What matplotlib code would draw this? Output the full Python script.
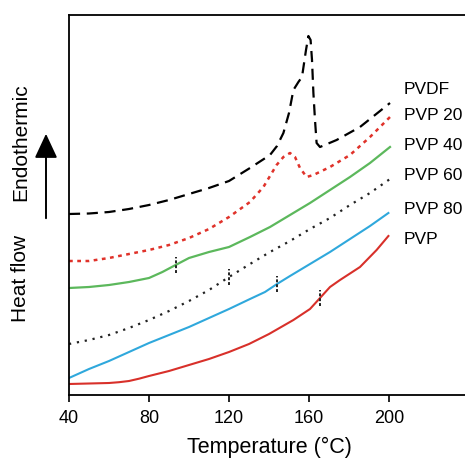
import matplotlib.pyplot as plt
from matplotlib.patches import FancyArrowPatch

plt.rcParams['font.family'] = ['Liberation Sans', 'DejaVu Sans']

# temperatures (degC) and heat flow (arbitrary units, offset curves)
t_pvdf = [40, 50, 60, 70, 80, 90, 100, 110, 120, 130.5, 140.5, 144, 147.2, 150, 152.2,
          154.7, 156.5, 158.5, 159.7, 160.8, 161.5, 162.2, 163, 163.8, 165.5,
          173.8, 185.5, 200.5]
y_pvdf = [181, 181.5, 183, 186, 190, 195, 201, 207, 214, 227, 240, 249, 262, 282, 305,
          313, 318, 345, 359, 355, 335, 302, 275, 252, 248,
          255, 268, 292]

t_pvp20 = [40, 50, 60, 70, 80, 90, 100, 110, 120, 130.5, 137.2, 143.8, 147.2, 150.5,
           153, 155.5, 158.8, 162.2, 170.5, 180.5, 190.5, 200.5]
y_pvp20 = [134, 134, 137, 141, 145, 150, 157, 166, 178, 193, 208, 230, 238, 242,
           238, 227, 218, 220, 228, 240, 258, 278]

t_pvp40 = [40, 50, 60, 70, 80, 86.7, 93.3, 100, 110, 120, 130.5, 140.5, 150.5, 160.5,
           170.5, 180.5, 190.5, 200.5]
y_pvp40 = [107, 108, 110, 113, 117, 123, 130, 137, 143, 148, 158, 168, 180, 192,
           205, 218, 232, 248]

t_pvp60 = [40, 50, 60, 70, 80, 90, 100, 110, 120, 130.5, 140.5, 150.5, 160.5, 170.5,
           180.5, 190.5, 200.5]
y_pvp60 = [51, 55, 60, 67, 75, 84, 94, 105, 118, 131, 143, 154, 166, 177,
           190, 202, 216]

t_pvp80 = [40, 50, 60, 70, 80, 90, 100, 110, 120, 130.5, 138, 144, 150.5, 160.5,
           170.5, 180.5, 190.5, 199.7]
y_pvp80 = [17, 26, 34, 43, 52, 60, 68, 77, 86, 96, 103, 111, 119, 131,
           143, 156, 169, 182]

t_pvp = [40, 60, 65, 70, 75, 80, 90, 100, 110, 120, 130, 140, 152.2, 160.5, 165.5,
         170.5, 175.5, 185.5, 193.8, 199.7]
y_pvp = [11, 12, 12.8, 14, 16.3, 19, 24, 30, 36, 43, 51, 61, 75, 86, 97,
         108, 115, 128, 145, 159]

# glass transition markers: (temperature, heat flow)
tg_t = [93.5, 120, 144, 165.5]
tg_y = [130, 118, 111, 97]

labels = ['PVDF', 'PVP 20', 'PVP 40', 'PVP 60', 'PVP 80', 'PVP']
label_y = [305, 280, 250, 220, 185, 155]

fig = plt.figure(figsize=(4.65, 4.59), dpi=100)
ax = fig.add_axes([69 / 465, 64 / 459, 401 / 465, 380 / 459])

ax.plot(t_pvdf, y_pvdf, color='black', lw=1.6, linestyle=(0, (5, 3)))
ax.plot(t_pvp20, y_pvp20, color='#e0322a', lw=1.8, linestyle=(0, (1.5, 1.8)))
ax.plot(t_pvp40, y_pvp40, color='#5cb85c', lw=1.6)
ax.plot(t_pvp60, y_pvp60, color='#222222', lw=1.6, linestyle=(0, (1, 2.6)))
ax.plot(t_pvp80, y_pvp80, color='#2fa8dc', lw=1.5)
ax.plot(t_pvp, y_pvp, color='#d8302a', lw=1.5)

ax.vlines(tg_t, [y - 8 for y in tg_y], [y + 8 for y in tg_y],
          colors='#222222', lw=1.4, linestyles=(0, (1.5, 1)))

for lab, yy in zip(labels, label_y):
    ax.text(207.5, yy, lab, fontsize=12.5, va='center', ha='left')

ax.set_xlim(40, 240.5)
ax.set_ylim(0, 380)
ax.set_xticks([40, 80, 120, 160, 200])
ax.set_yticks([])
ax.tick_params(axis='x', labelsize=13, length=5, width=1.2, direction='out', pad=6)
ax.set_xlabel('Temperature (°C)', fontsize=15.5, labelpad=7)
for s in ax.spines.values():
    s.set_linewidth(1.3)

# y label with arrow
fig.text(21 / 465, 1 - 278 / 459, 'Heat flow', rotation=90, fontsize=15,
         ha='center', va='center')
fig.text(21 / 465, 1 - 142 / 459, 'Endothermic', rotation=90, fontsize=15,
         ha='center', va='center')
fig.add_artist(FancyArrowPatch(
    (46 / 465, 1 - 221 / 459), (46 / 465, 1 - 131 / 459),
    transform=fig.transFigure, arrowstyle='-|>,head_length=6,head_width=2.8',
    lw=1.4, color='black', mutation_scale=2.5))

fig.savefig('out.png', dpi=100)
